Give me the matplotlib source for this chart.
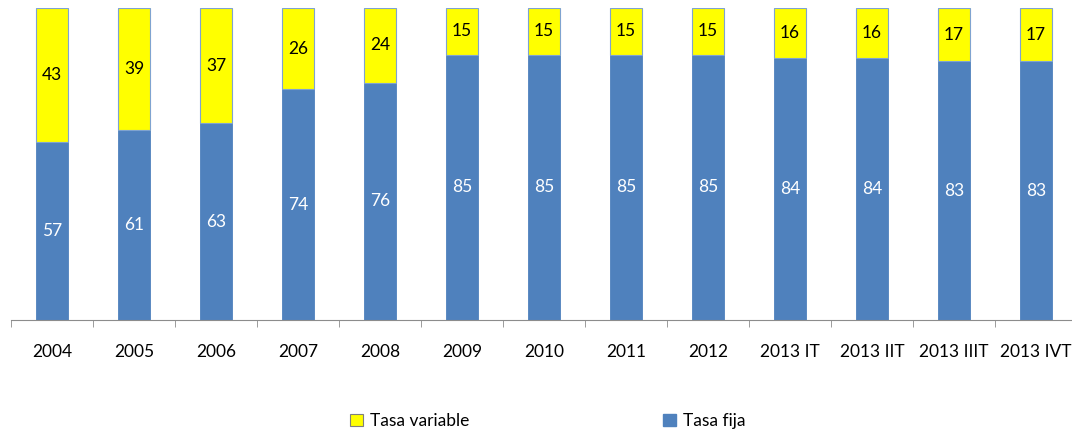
import numpy as np
import matplotlib.pyplot as plt
from matplotlib.patches import Patch

plt.rcParams['font.family'] = ['Lato', 'DejaVu Sans']

categorias = ['2004', '2005', '2006', '2007', '2008', '2009', '2010', '2011',
              '2012', '2013 IT', '2013 IIT', '2013 IIIT', '2013 IVT']
tasa_fija = [57, 61, 63, 74, 76, 85, 85, 85, 85, 84, 84, 83, 83]
tasa_variable = [43, 39, 37, 26, 24, 15, 15, 15, 15, 16, 16, 17, 17]

azul = '#4F81BD'
amarillo = '#FFFF00'

W, H = 1072, 432
fig = plt.figure(figsize=(W/100, H/100), dpi=100)
ax = fig.add_axes([11/W, (H-320)/H, 1066/W, 312/H])

x = np.arange(len(categorias))
fija = np.array(tasa_fija)
var = np.array(tasa_variable)
total = fija + var
fija_p = fija/total*100
var_p = var/total*100

ax.bar(x, fija_p, width=0.4, color=azul, edgecolor=azul, linewidth=0.6)
ax.bar(x, var_p, width=0.4, bottom=fija_p, color=amarillo, edgecolor='#7FA3D0', linewidth=0.8)

for i in range(len(x)):
    ax.text(x[i], fija_p[i]/2, str(tasa_fija[i]), ha='center', va='center',
            color='white', fontsize=12.5)
    ax.text(x[i], fija_p[i] + var_p[i]/2, str(tasa_variable[i]), ha='center',
            va='center', color='black', fontsize=12.5)

ax.set_xlim(-0.5, len(x)-0.5)
ax.set_ylim(0, 100)
ax.set_yticks([])
for s in ['top', 'right', 'left']:
    ax.spines[s].set_visible(False)
ax.spines['bottom'].set_color('#8C8C8C')
ax.set_xticks(x)
ax.set_xticklabels(categorias, fontsize=12.5)
ax.tick_params(axis='x', which='major', length=0, pad=17)
ax.set_xticks(np.arange(len(x)+1)-0.5, minor=True)
ax.tick_params(axis='x', which='minor', length=5, color='#8C8C8C', direction='out')

handles = [Patch(facecolor=amarillo, edgecolor='#7F7F7F', linewidth=0.8),
           Patch(facecolor=azul, edgecolor=azul)]
fig.legend(handles, ['Tasa variable', 'Tasa fija'], ncol=2, frameon=False,
           loc='center left', bbox_to_anchor=(334/W, 1-421/H), fontsize=12.5,
           handlelength=0.75, handleheight=0.75, handletextpad=0.4,
           columnspacing=11.2)

fig.savefig('out.png', dpi=100)
